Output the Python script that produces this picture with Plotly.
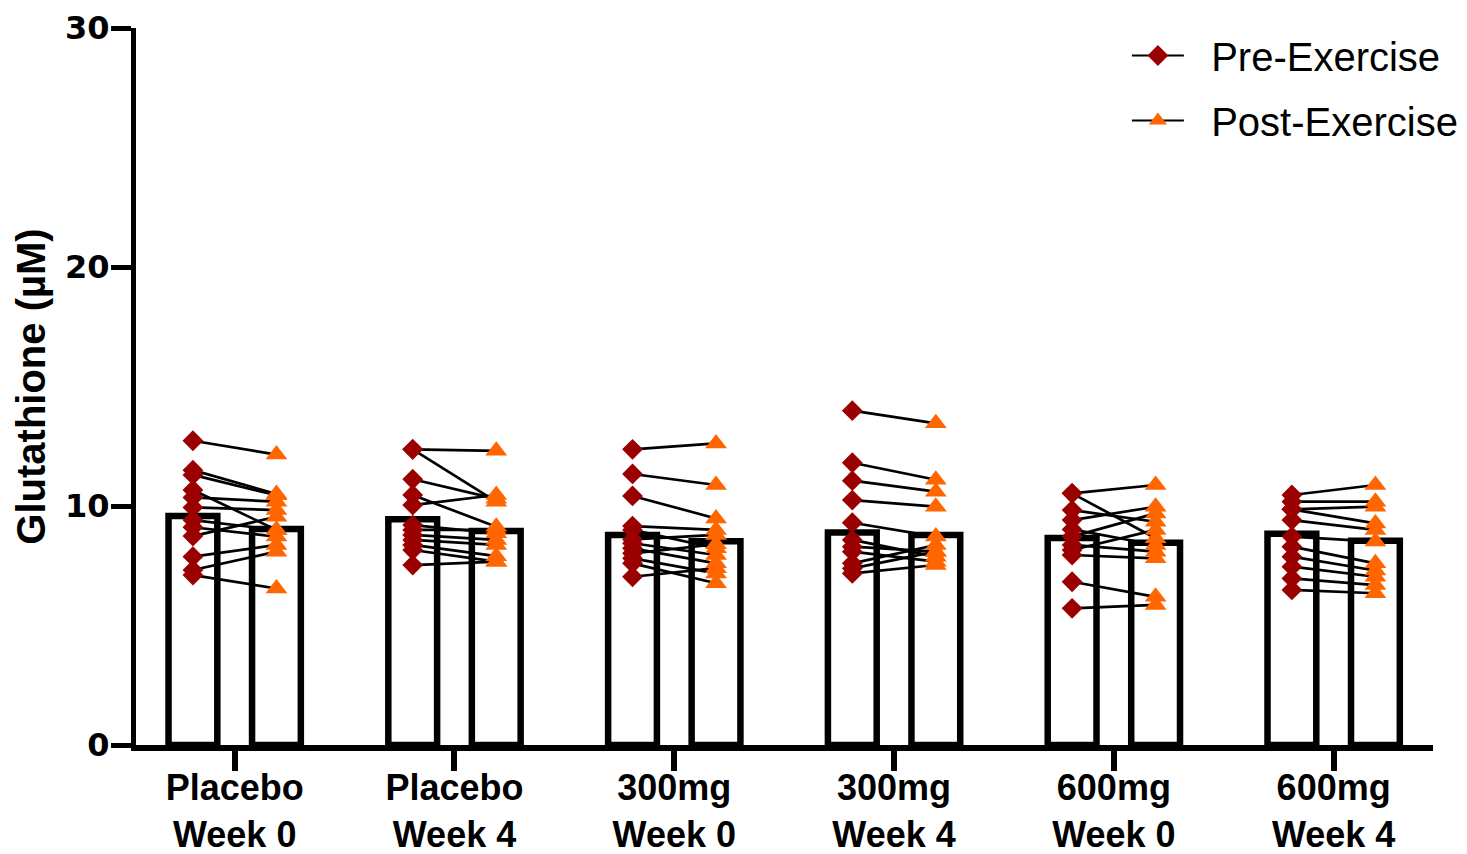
import plotly.graph_objects as go

categories = ["Placebo<br>Week 0", "Placebo<br>Week 4", "300mg<br>Week 0",
              "300mg<br>Week 4", "600mg<br>Week 0", "600mg<br>Week 4"]

bar_pre = [9.58, 9.45, 8.79, 8.89, 8.66, 8.84]
bar_post = [9.04, 8.95, 8.53, 8.79, 8.46, 8.55]

pre1 = [12.73, 11.50, 11.30, 10.67, 10.36, 9.94, 9.41, 9.11, 8.74, 7.88, 7.32, 7.11]
post1 = [12.15, 10.50, 10.45, 9.00, 10.18, 9.83, 9.00, 8.72, 9.55, 8.37, 8.09, 6.55]

pre2 = [12.37, 12.37, 11.12, 10.46, 10.04, 9.20, 9.00, 8.79, 8.58, 8.37, 8.16, 7.53]
post2 = [12.31, 10.18, 10.30, 9.13, 10.46, 8.86, 9.00, 8.58, 8.37, 7.90, 7.67, 7.67]

pre3 = [12.37, 11.34, 10.42, 9.16, 9.00, 8.60, 8.44, 8.23, 8.02, 7.81, 7.60, 7.04]
post3 = [12.62, 10.88, 9.48, 9.00, 8.23, 8.79, 7.95, 7.60, 8.40, 7.18, 6.77, 7.40]

pre4 = [13.99, 11.81, 11.06, 10.25, 9.30, 8.58, 8.30, 8.09, 7.60, 7.39, 7.18]
post4 = [13.46, 11.10, 10.60, 9.97, 8.72, 7.88, 8.09, 7.67, 8.37, 8.09, 7.53]

pre5 = [10.53, 10.53, 9.83, 9.41, 9.02, 8.72, 8.37, 8.16, 7.95, 6.83, 5.72]
post5 = [10.88, 8.65, 9.34, 9.97, 8.37, 9.69, 8.09, 9.00, 7.81, 6.20, 5.86]

pre6 = [10.46, 10.18, 9.86, 9.86, 9.41, 8.72, 8.30, 7.88, 7.46, 6.97, 6.49]
post6 = [10.88, 10.18, 9.97, 9.27, 9.00, 8.51, 7.60, 7.30, 7.04, 6.69, 6.35]

pre_groups = [pre1, pre2, pre3, pre4, pre5, pre6]
post_groups = [post1, post2, post3, post4, post5, post6]

PRE_COLOR = "#9B0000"
POST_COLOR = "#FF6600"
offset = 0.19
bar_w = 0.222

pos = list(range(len(categories)))
x_pre = [p - offset for p in pos]
x_post = [p + offset for p in pos]

fig = go.Figure()

bar_style = dict(color="white", line=dict(color="black", width=6.5))
fig.add_trace(go.Bar(x=x_pre, y=bar_pre, width=bar_w, marker=bar_style,
                     showlegend=False, hoverinfo="skip"))
fig.add_trace(go.Bar(x=x_post, y=bar_post, width=bar_w, marker=bar_style,
                     showlegend=False, hoverinfo="skip"))

lx, ly = [], []
px, py, qx, qy = [], [], [], []
for gi, (pre, post) in enumerate(zip(pre_groups, post_groups)):
    for a, b in zip(pre, post):
        lx += [gi - offset, gi + offset, None]
        ly += [a, b, None]
        px.append(gi - offset)
        py.append(a)
        qx.append(gi + offset)
        qy.append(b)

fig.add_trace(go.Scatter(x=lx, y=ly, mode="lines",
                         line=dict(color="black", width=2.7),
                         showlegend=False, hoverinfo="skip"))
fig.add_trace(go.Scatter(x=px, y=py, mode="markers",
                         marker=dict(symbol="diamond", size=16, color=PRE_COLOR),
                         showlegend=False, name="Pre-Exercise"))
fig.add_trace(go.Scatter(x=qx, y=qy, mode="markers",
                         marker=dict(symbol="triangle-up", size=19, color=POST_COLOR),
                         showlegend=False, name="Post-Exercise"))

# legend entries
NB = "\u00a0\u00a0"
fig.add_trace(go.Scatter(x=[None], y=[None], mode="lines+markers", name=NB + "Pre-Exercise",
                         line=dict(color="black", width=2),
                         marker=dict(symbol="diamond", size=19, color=PRE_COLOR),
                         legendgroup="pre"))
fig.add_trace(go.Scatter(x=[None], y=[None], mode="lines+markers", name=NB + "Post-Exercise",
                         line=dict(color="black", width=2),
                         marker=dict(symbol="triangle-up", size=22, color=POST_COLOR),
                         legendgroup="post"))

fig.update_layout(
    width=1467, height=854,
    margin=dict(l=136, r=34, t=28, b=109, autoexpand=False),
    paper_bgcolor="white", plot_bgcolor="white",
    barmode="overlay",
    showlegend=True,
    legend=dict(x=0.764, y=1.007, xanchor="left", yanchor="top",
                font=dict(family="Liberation Sans, Arial", size=40, color="black"),
                itemwidth=52, tracegroupgap=10, bgcolor="rgba(0,0,0,0)"),
    xaxis=dict(range=[-0.449, 5.452], tickmode="array", tickvals=pos, ticktext=categories,
               ticks="outside", ticklen=20, tickwidth=6, tickcolor="black",
               showline=True, linewidth=6, linecolor="black",
               showgrid=False, zeroline=False, automargin=False,
               ticklabelstandoff=-14,
               tickfont=dict(family="Liberation Sans, Arial", size=36, color="black", weight="bold")),
    yaxis=dict(range=[0, 30], tickmode="array", tickvals=[0, 10, 20, 30],
               ticks="outside", ticklen=20, tickwidth=5, tickcolor="black",
               showline=True, linewidth=5, linecolor="black",
               showgrid=False, zeroline=False, automargin=False,
               ticklabelstandoff=-5,
               tickfont=dict(family="DejaVu Sans", size=32, color="black", weight="bold"),
               title=dict(text="Glutathione (µM)", standoff=9,
                          font=dict(family="Liberation Sans, Arial", size=40, color="black", weight="bold"))),
)

fig.write_html("out.html", config={"displayModeBar": False},
               post_script="document.body.style.margin='0';")
